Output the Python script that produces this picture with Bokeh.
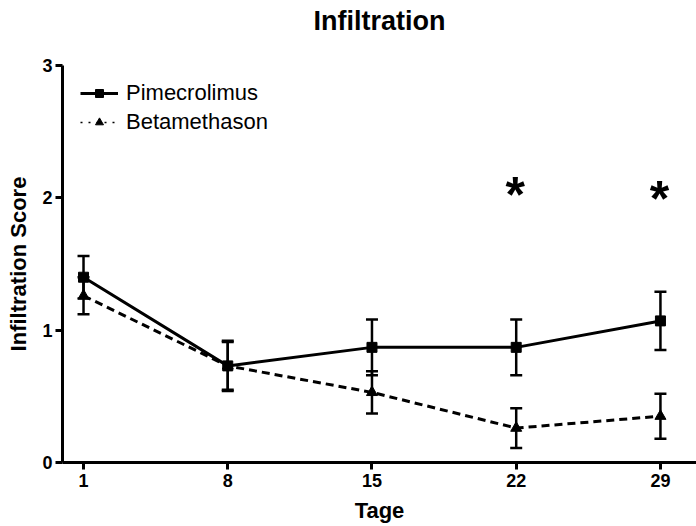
from bokeh.plotting import figure
from bokeh.models import (ColumnDataSource, Whisker, TeeHead, Legend, LegendItem, Range1d,
                          FixedTicker, Title)
from bokeh.core.properties import value
from bokeh.embed import file_html
from bokeh.resources import INLINE

days = [1, 8, 15, 22, 29]
pime_mean = [1.40, 0.73, 0.87, 0.87, 1.07]
pime_sem = [0.16, 0.19, 0.21, 0.21, 0.22]
beta_mean = [1.26, 0.73, 0.53, 0.26, 0.35]
beta_sem = [0.14, 0.18, 0.16, 0.15, 0.17]
star_days = [22, 29]
star_y = [2.06, 2.03]
x_ticks = [1, 8, 15, 22, 29]
y_ticks = [0, 1, 2, 3]

FONT = "Liberation Sans"
X0, X1 = -0.02, 30.75

p = figure(width=696, height=526, output_backend="svg", toolbar_location=None,
           x_range=Range1d(X0, X1), y_range=Range1d(0, 3),
           min_border_left=62, min_border_right=0, min_border_top=65, min_border_bottom=64)
p.add_layout(Title(text="Infiltration\n", text_font=FONT, text_font_size="27px",
                   text_font_style="bold", text_color="black", align="center", standoff=0),
             "above")
p.outline_line_color = None
p.grid.visible = False

for ax in (p.xaxis[0], p.yaxis[0]):
    ax.axis_line_width = 3
    ax.axis_line_color = "black"
    ax.major_tick_line_width = 3
    ax.major_tick_line_color = "black"
    ax.major_tick_in = 0
    ax.major_tick_out = 7
    ax.minor_tick_line_color = None
    ax.major_label_text_font = FONT
    ax.major_label_text_font_style = "bold"
    ax.major_label_text_font_size = "18px"
    ax.major_label_text_color = "black"
    ax.axis_label_text_font = FONT
    ax.axis_label_text_font_style = "bold"
    ax.axis_label_text_font_size = "22px"
    ax.axis_label_text_color = "black"
p.xaxis.ticker = FixedTicker(ticks=x_ticks)
p.yaxis.ticker = FixedTicker(ticks=y_ticks)
p.xaxis.axis_label = "Tage"
p.yaxis.axis_label = "Infiltration Score"
p.xaxis.major_label_standoff = 4
p.yaxis.major_label_standoff = 3
p.xaxis.axis_label_standoff = 8
p.yaxis.axis_label_standoff = 8

src_p = ColumnDataSource(dict(x=days, y=pime_mean,
                              lo=[m - s for m, s in zip(pime_mean, pime_sem)],
                              hi=[m + s for m, s in zip(pime_mean, pime_sem)]))
src_b = ColumnDataSource(dict(x=days, y=beta_mean,
                              lo=[m - s for m, s in zip(beta_mean, beta_sem)],
                              hi=[m + s for m, s in zip(beta_mean, beta_sem)]))

for src in (src_p, src_b):
    w = Whisker(source=src, base="x", lower="lo", upper="hi", line_width=2.5, line_color="black",
                upper_head=TeeHead(size=12, line_width=2.5, line_color="black"),
                lower_head=TeeHead(size=12, line_width=2.5, line_color="black"))
    p.add_layout(w)

lp = p.line("x", "y", source=src_p, line_width=3, line_color="black")
sp = p.scatter("x", "y", source=src_p, marker="square", size=10, color="black")
lb = p.line("x", "y", source=src_b, line_width=3, line_color="black", line_dash="8 5")
sb = p.scatter("x", "y", source=src_b, marker="triangle", size=11, color="black")

p.text(x=star_days, y=star_y, text=["*", "*"], text_font=value(FONT), text_font_size="50px",
       text_font_style="bold", text_align="center", text_baseline="alphabetic",
       y_offset=5, x_offset=-1)

lb_leg = p.line([0], [0], line_width=1.5, line_color="black", line_dash="2 6", visible=False)
legend = Legend(items=[LegendItem(label="Pimecrolimus", renderers=[lp, sp]),
                       LegendItem(label="Betamethason", renderers=[lb_leg, sb])],
                location=(18, 327), orientation="vertical",
                label_text_font=FONT, label_text_font_size="22px", label_text_color="black",
                glyph_width=38, glyph_height=20, spacing=3, label_standoff=8,
                border_line_color=None, background_fill_alpha=0, padding=4, margin=0)
p.add_layout(legend)

open("out.html", "w").write(file_html(p, INLINE))
